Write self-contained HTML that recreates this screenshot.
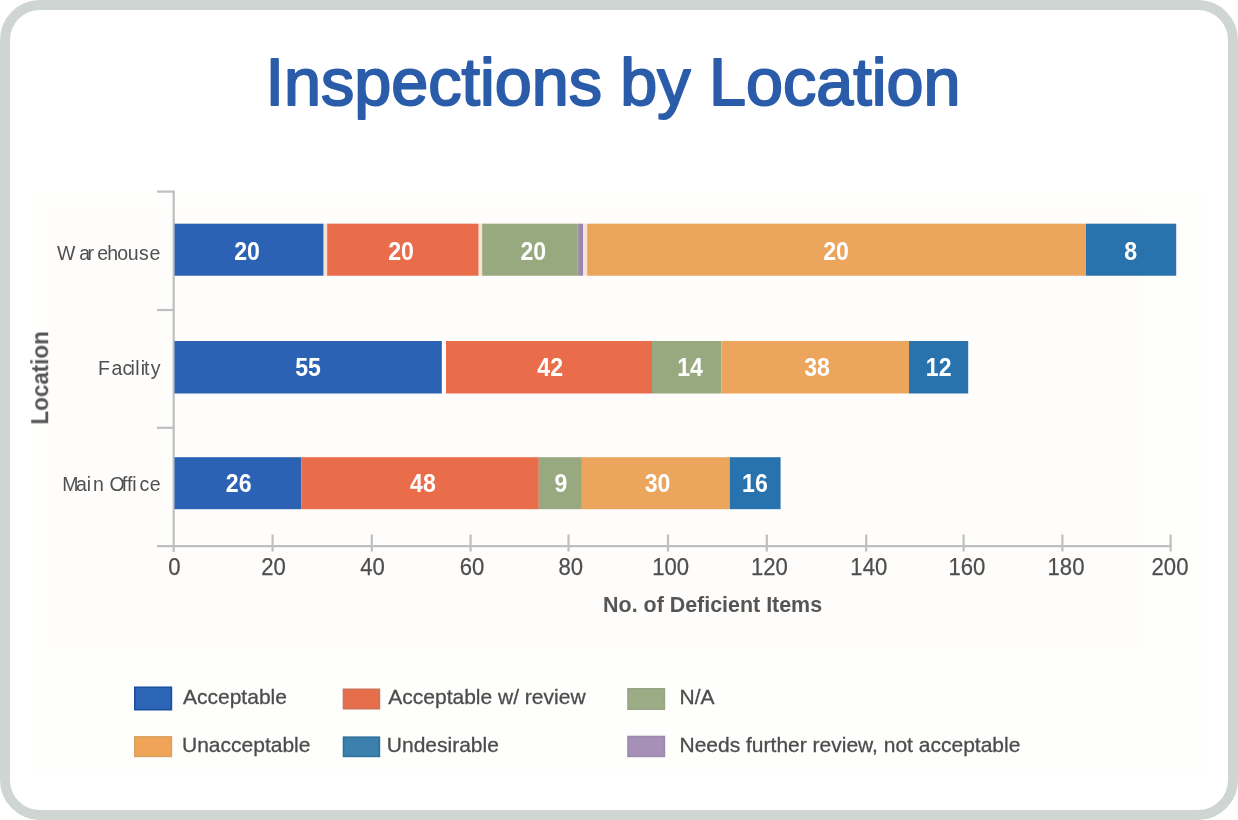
<!DOCTYPE html>
<html lang="en">
<head>
<meta charset="utf-8">
<title>Inspections by Location</title>
<style>
  html, body { margin: 0; padding: 0; background: #ffffff; }
  body { width: 1238px; height: 820px; overflow: hidden; position: relative; font-family: "Liberation Sans", sans-serif; }
  .frame { position: absolute; left: 0; top: 0; width: 1218px; height: 800px; border: 10px solid #cfd5d3; border-radius: 40px; background: #ffffff; }
  svg { position: absolute; left: 0; top: 0; }
  text { font-family: "Liberation Sans", sans-serif; }
  .title { font-weight: normal; font-size: 66.5px; fill: #2a5caa; stroke: #2a5caa; stroke-width: 2px; stroke-linejoin: round; }
  .val { font-weight: bold; font-size: 25px; fill: #ffffff; text-anchor: middle; }
  .tick { font-size: 24.5px; fill: #4e4e4e; stroke: #4e4e4e; stroke-width: 0.25px; text-anchor: middle; }
  .cat { font-size: 19.5px; fill: #505050; }
  .axis { font-weight: bold; font-size: 22.5px; fill: #555555; }
  .leg { font-size: 21px; fill: #4c4c4c; stroke: #4c4c4c; stroke-width: 0.3px; }
</style>
</head>
<body>
<div class="frame"></div>
<svg width="1238" height="820" viewBox="0 0 1238 820">
  <!-- faint chart background -->
  <rect x="32" y="191" width="1172" height="580" fill="#fefefd"/>
  <rect x="48" y="208" width="1100" height="440" fill="#fefdfc"/>

  <text class="title" x="613" y="104.5" text-anchor="middle">Inspections by Location</text>

  <defs>
    <filter id="soft" x="-2%" y="-2%" width="104%" height="104%" color-interpolation-filters="sRGB">
      <feGaussianBlur stdDeviation="0.55"/>
    </filter>
  </defs>
  <g filter="url(#soft)">
  <!-- axes -->
  <g stroke="#bfbfbf" stroke-width="2.2" fill="none">
    <line x1="173.7" y1="190.5" x2="173.7" y2="552"/>
    <line x1="157" y1="546.2" x2="1171.6" y2="546.2"/>
    <line x1="157" y1="191.6" x2="174" y2="191.6"/>
    <line x1="157" y1="310" x2="174" y2="310"/>
    <line x1="157" y1="427.8" x2="174" y2="427.8"/>
    <g>
      <line x1="272.6" y1="534.5" x2="272.6" y2="551.5"/>
      <line x1="371.8" y1="534.5" x2="371.8" y2="551.5"/>
      <line x1="470.6" y1="534.5" x2="470.6" y2="551.5"/>
      <line x1="568.5" y1="534.5" x2="568.5" y2="551.5"/>
      <line x1="668" y1="534.5" x2="668" y2="551.5"/>
      <line x1="766.8" y1="534.5" x2="766.8" y2="551.5"/>
      <line x1="866.2" y1="534.5" x2="866.2" y2="551.5"/>
      <line x1="963.6" y1="534.5" x2="963.6" y2="551.5"/>
      <line x1="1062.4" y1="534.5" x2="1062.4" y2="551.5"/>
      <line x1="1170.6" y1="534.5" x2="1170.6" y2="551.5"/>
    </g>
  </g>

  <!-- Warehouse -->
  <g>
    <rect x="174.5" y="223.7" width="1001.7" height="52" fill="#f7e3d2"/>
    <rect x="174.5" y="223.7" width="148.9" height="52" fill="#2b62b4"/>
    <rect x="327.2" y="223.7" width="151.2" height="52" fill="#e96c4b"/>
    <rect x="482.2" y="223.7" width="95.3" height="52" fill="#98a97f"/>
    <rect x="577.5" y="223.7" width="2" height="52" fill="#99979c"/>
    <rect x="579.2" y="223.7" width="3.8" height="52" fill="#9a85b4"/>
    <rect x="587.2" y="223.7" width="499" height="52" fill="#eba55c"/>
    <rect x="1086" y="223.7" width="90.2" height="52" fill="#2873ad"/>
  </g>
  <!-- Facility -->
  <g>
    <rect x="174.5" y="341" width="267.3" height="52.5" fill="#2b62b4"/>
    <rect x="446" y="341" width="206" height="52.5" fill="#e96c4b"/>
    <rect x="652" y="341" width="69.3" height="52.5" fill="#98a97f"/>
    <rect x="721.3" y="341" width="187.7" height="52.5" fill="#eba55c"/>
    <rect x="909" y="341" width="59.2" height="52.5" fill="#2873ad"/>
  </g>
  <!-- Main Office -->
  <g>
    <rect x="174.5" y="457.2" width="126.8" height="52" fill="#2b62b4"/>
    <rect x="301.3" y="457.2" width="237.5" height="52" fill="#e96c4b"/>
    <rect x="538.8" y="457.2" width="43.1" height="52" fill="#98a97f"/>
    <rect x="581.9" y="457.2" width="147.8" height="52" fill="#eba55c"/>
    <rect x="729.7" y="457.2" width="50.9" height="52" fill="#2873ad"/>
  </g>

  <!-- value labels -->
  <g class="val">
    <text x="247" y="259.8" textLength="25.7" lengthAdjust="spacingAndGlyphs">20</text>
    <text x="401" y="259.8" textLength="25.7" lengthAdjust="spacingAndGlyphs">20</text>
    <text x="533.3" y="259.8" textLength="25.7" lengthAdjust="spacingAndGlyphs">20</text>
    <text x="836" y="259.8" textLength="25.7" lengthAdjust="spacingAndGlyphs">20</text>
    <text x="1130.7" y="259.8" textLength="12.85" lengthAdjust="spacingAndGlyphs">8</text>
    <text x="308" y="376" textLength="25.7" lengthAdjust="spacingAndGlyphs">55</text>
    <text x="550.2" y="376" textLength="25.7" lengthAdjust="spacingAndGlyphs">42</text>
    <text x="690" y="376" textLength="25.7" lengthAdjust="spacingAndGlyphs">14</text>
    <text x="817" y="376" textLength="25.7" lengthAdjust="spacingAndGlyphs">38</text>
    <text x="938.7" y="376" textLength="25.7" lengthAdjust="spacingAndGlyphs">12</text>
    <text x="238.7" y="491.6" textLength="25.7" lengthAdjust="spacingAndGlyphs">26</text>
    <text x="422.9" y="491.6" textLength="25.7" lengthAdjust="spacingAndGlyphs">48</text>
    <text x="561" y="491.6" textLength="12.85" lengthAdjust="spacingAndGlyphs">9</text>
    <text x="657.5" y="491.6" textLength="25.7" lengthAdjust="spacingAndGlyphs">30</text>
    <text x="754.9" y="491.6" textLength="25.7" lengthAdjust="spacingAndGlyphs">16</text>
  </g>

  <!-- category labels -->
  <g class="cat">
    <text x="57.1 79.2 87.4 97.2 107.3 117.2 127.8 139.1 149.5" y="259.7">Warehouse</text>
    <text x="98 111.6 122.4 130.6 135.3 140.8 144.1 150.7" y="374.7">Facility</text>
    <text x="62.3 76 86.7 93 103 109.4 121.7 127 132.2 139.5 149.7" y="491">Main Office</text>
  </g>

  <!-- x tick labels -->
  <g class="tick">
    <text x="174.3" y="575.3" textLength="12.3" lengthAdjust="spacingAndGlyphs">0</text>
    <text x="273.5" y="575.3" textLength="24.6" lengthAdjust="spacingAndGlyphs">20</text>
    <text x="372.6" y="575.3" textLength="24.6" lengthAdjust="spacingAndGlyphs">40</text>
    <text x="472" y="575.3" textLength="24.6" lengthAdjust="spacingAndGlyphs">60</text>
    <text x="570.7" y="575.3" textLength="24.6" lengthAdjust="spacingAndGlyphs">80</text>
    <text x="670.7" y="575.3" textLength="36.9" lengthAdjust="spacingAndGlyphs">100</text>
    <text x="769.4" y="575.3" textLength="36.9" lengthAdjust="spacingAndGlyphs">120</text>
    <text x="868.8" y="575.3" textLength="36.9" lengthAdjust="spacingAndGlyphs">140</text>
    <text x="966.9" y="575.3" textLength="36.9" lengthAdjust="spacingAndGlyphs">160</text>
    <text x="1066" y="575.3" textLength="36.9" lengthAdjust="spacingAndGlyphs">180</text>
    <text x="1170" y="575.3" textLength="36.9" lengthAdjust="spacingAndGlyphs">200</text>
  </g>

  <text class="axis" x="603.1" y="611.5" textLength="219" lengthAdjust="spacingAndGlyphs">No. of Deficient Items</text>
  <text class="axis" style="font-size:24.5px" transform="translate(48.2,424.6) rotate(-90)" textLength="93.5" lengthAdjust="spacingAndGlyphs">Location</text>

  <!-- legend -->
  <g stroke-width="1.6">
    <rect x="134.8" y="687.3" width="36.6" height="22.4" fill="#2c65b6" stroke="#1c4fa2"/>
    <rect x="343.5" y="689.3" width="35.9" height="19.4" fill="#e66e4b" stroke="#cd7259"/>
    <rect x="628" y="688.8" width="36.4" height="20.4" fill="#9cac84" stroke="#98a388"/>
    <rect x="134.8" y="736.8" width="36.6" height="19.6" fill="#f0a457" stroke="#dba462"/>
    <rect x="343.5" y="737.2" width="35.9" height="19.2" fill="#3c81ad" stroke="#2d7099"/>
    <rect x="628" y="736.5" width="36.4" height="19.9" fill="#a68fb8" stroke="#9a8aaa"/>
  </g>
  <g class="leg">
    <text x="183" y="704.4">Acceptable</text>
    <text x="388.3" y="704.4">Acceptable w/ review</text>
    <text x="679.5" y="704.4">N/A</text>
    <text x="182" y="752">Unacceptable</text>
    <text x="386.8" y="752">Undesirable</text>
    <text x="679.5" y="752">Needs further review, not acceptable</text>
  </g>
  </g>
</svg>
</body>
</html>
